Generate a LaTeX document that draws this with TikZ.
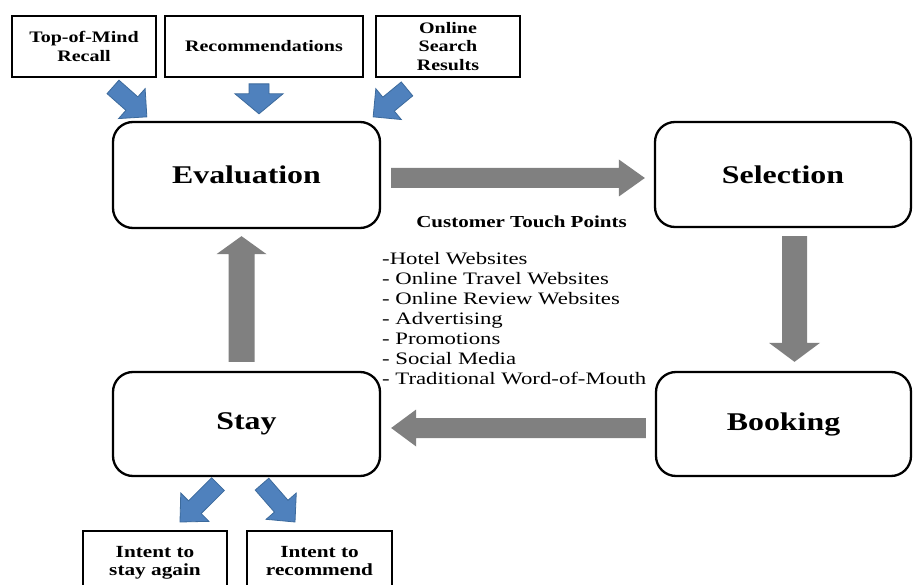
\documentclass[tikz,border=0pt]{standalone}
\usepackage{fontspec}
\setmainfont[FakeStretch=1.25]{Liberation Serif}
\newfontfamily\listfont[FakeStretch=1.3]{Liberation Serif}
\usetikzlibrary{calc}

\definecolor{flowgray}{HTML}{808080}
\definecolor{bluefill}{HTML}{4F81BD}
\definecolor{blueline}{HTML}{3C6A9C}

% block arrow: #1 style, #2 start, #3 tip, #4 half shaft width, #5 half head width, #6 head length
\newcommand\blockarrow[6]{%
  \coordinate (ba-h) at ($(#3)!#6!(#2)$);
  \path[#1] ($(#2)!#4!90:(#3)$) -- ($(ba-h)!#4!90:(#3)$) -- ($(ba-h)!#5!90:(#3)$) -- (#3)
    -- ($(ba-h)!#5!-90:(#3)$) -- ($(ba-h)!#4!-90:(#3)$) -- ($(#2)!#4!-90:(#3)$) -- cycle;}

\tikzset{
  stage/.style={draw=black, line width=2.3pt, rounded corners=20pt, fill=white,
    font=\fontsize{25.5}{28}\selectfont\bfseries, inner sep=0pt},
  source/.style={draw=black, line width=1.8pt, fill=white, align=center,
    font=\fontsize{16}{18.5}\selectfont\bfseries, inner sep=0pt},
  outcome/.style={draw=black, line width=1.8pt, fill=white, align=center,
    font=\fontsize{17}{18.5}\selectfont\bfseries, inner sep=0pt},
  grayarrow/.style={fill=flowgray},
  bluearrow/.style={fill=bluefill, draw=blueline, line width=0.8pt, line join=miter},
}

\begin{document}
\begin{tikzpicture}[x=1pt, y=-1pt]
\useasboundingbox (0,0) rectangle (913,585);
\clip (0,0) rectangle (913,585);
\fill[white] (0,0) rectangle (913,585);

% stage boxes
\node[stage, minimum width=267pt, minimum height=106pt] (eval) at (246.5,175) {Evaluation};
\node[stage, minimum width=256pt, minimum height=105pt] (sel) at (783,174.5) {Selection};
\node[stage, minimum width=255pt, minimum height=104pt] (book) at (783.5,424) {Booking};
\node[stage, minimum width=267pt, minimum height=104pt] (stay) at (246.5,424) {Stay};

% information sources
\node[source, minimum width=144pt, minimum height=61pt] (top1) at (84,46.5) {Top-of-Mind\\Recall};
\node[source, minimum width=198pt, minimum height=61pt] (top2) at (264,46.5) {Recommendations};
\node[source, minimum width=144pt, minimum height=61pt] (top3) at (448,46.5) {Online\\Search\\Results};

% outcomes (boxes run past the lower edge)
\node[outcome, minimum width=144pt, minimum height=64pt, anchor=north] (botL) at (155,530) {Intent to\\stay again};
\node[outcome, minimum width=145pt, minimum height=64pt, anchor=north] (botR) at (319.5,530) {Intent to\\recommend\vphantom{y}};

% touch points
\node[font=\fontsize{16.8}{19}\selectfont\bfseries, inner sep=0pt] (tphead) at (521.5,222) {Customer Touch Points};
\node[font=\listfont\fontsize{17.5}{20}\selectfont, align=left, anchor=north west, inner sep=0pt] (tplist) at (382,252.5)
  {-Hotel Websites\\
   - Online Travel Websites\\
   - Online Review Websites\\
   - Advertising\\
   - Promotions\\
   - Social Media\\
   - Traditional Word-of-Mouth};

% cycle arrows
\coordinate (es-a) at ($(eval.east)+(10,3)$);
\coordinate (es-b) at ($(sel.west)+(-9,3.5)$);
\coordinate (sb-a) at ($(sel.south)+(11.5,8)$);
\coordinate (sb-b) at ($(book.north)+(11,-9)$);
\coordinate (bs-a) at ($(book.west)+(-9,4)$);
\coordinate (bs-b) at ($(stay.east)+(10,4)$);
\coordinate (se-a) at ($(stay.north)+(-5,-9)$);
\coordinate (se-b) at ($(eval.south)+(-5,7)$);
\blockarrow{grayarrow}{es-a}{es-b}{10pt}{18.5pt}{26pt}
\blockarrow{grayarrow}{sb-a}{sb-b}{12.5pt}{25.5pt}{19pt}
\blockarrow{grayarrow}{bs-a}{bs-b}{10pt}{18.5pt}{25pt}
\blockarrow{grayarrow}{se-a}{se-b}{13pt}{25pt}{18pt}

% inputs into evaluation
\coordinate (t1-a) at ($(top1.south)+(29,9)$);
\coordinate (t1-b) at ($(eval.north west)+(35,-4)$);
\coordinate (t2-a) at ($(top2.south)+(-5,6)$);
\coordinate (t2-b) at ($(eval.north)+(12.5,-7)$);
\coordinate (t3-a) at ($(top3.south)+(-41,11)$);
\coordinate (t3-b) at ($(eval.north east)+(-8,-4)$);
\blockarrow{bluearrow}{t1-a}{t1-b}{9pt}{20pt}{20pt}
\blockarrow{bluearrow}{t2-a}{t2-b}{10pt}{24pt}{20pt}
\blockarrow{bluearrow}{t3-a}{t3-b}{9pt}{20pt}{20pt}

% outputs of the stay
\coordinate (sl-a) at ($(stay.south)+(-28.5,7)$);
\coordinate (sl-b) at ($(botL.north)+(25,-8)$);
\coordinate (sr-a) at ($(stay.south)+(15.5,7)$);
\coordinate (sr-b) at ($(botR.north)+(-24.5,-8)$);
\blockarrow{bluearrow}{sl-a}{sl-b}{9pt}{20pt}{21pt}
\blockarrow{bluearrow}{sr-a}{sr-b}{9pt}{20pt}{21pt}
\end{tikzpicture}
\end{document}
